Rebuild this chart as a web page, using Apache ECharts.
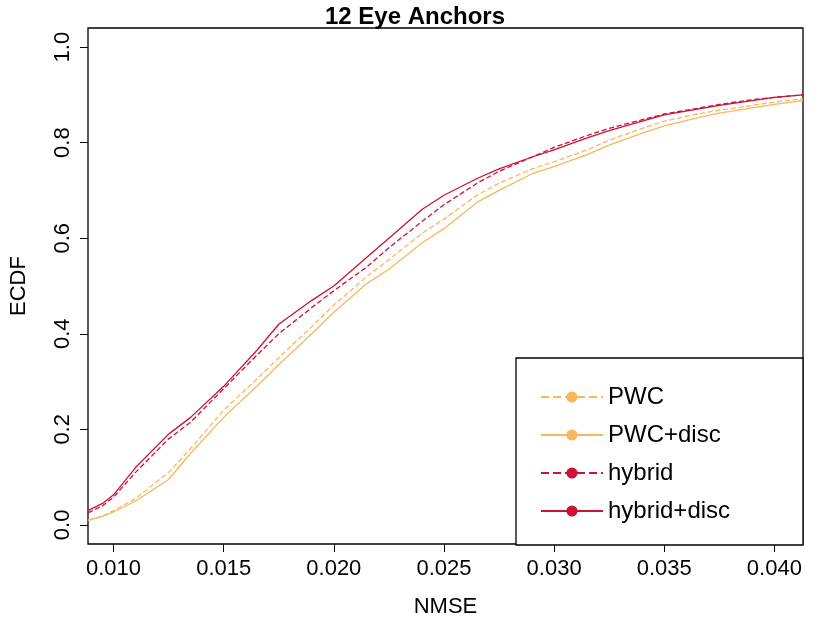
<!DOCTYPE html>
<html><head><meta charset="utf-8">
<script src="https://cdn.jsdelivr.net/npm/echarts@6/dist/echarts.min.js"></script>
<style>html,body{margin:0;padding:0;background:#fff}#c{width:830px;height:623px}</style>
</head><body><div id="c"></div>
<script>
const xs = [0.00884,0.0095,0.010,0.011,0.0125,0.0135,0.015,0.0165,0.0175,0.019,0.020,0.0215,0.0225,0.024,0.025,0.0265,0.0275,0.029,0.030,0.0315,0.0325,0.034,0.035,0.0365,0.0375,0.039,0.040,0.0413];
const pwc       = [0.010,0.018,0.030,0.055,0.110,0.160,0.240,0.305,0.350,0.415,0.460,0.520,0.555,0.610,0.640,0.690,0.715,0.745,0.760,0.785,0.805,0.830,0.845,0.860,0.868,0.878,0.885,0.892];
const pwcDisc   = [0.010,0.018,0.027,0.050,0.095,0.150,0.225,0.290,0.335,0.400,0.445,0.505,0.535,0.590,0.620,0.675,0.700,0.735,0.750,0.775,0.795,0.820,0.835,0.852,0.862,0.873,0.880,0.888];
const hybrid    = [0.025,0.040,0.058,0.110,0.180,0.215,0.285,0.355,0.400,0.455,0.490,0.540,0.580,0.635,0.670,0.715,0.740,0.770,0.790,0.815,0.830,0.848,0.860,0.872,0.880,0.890,0.895,0.900];
const hybridDisc= [0.030,0.045,0.063,0.120,0.190,0.225,0.290,0.365,0.420,0.470,0.500,0.560,0.600,0.660,0.690,0.725,0.745,0.770,0.785,0.810,0.825,0.845,0.858,0.870,0.878,0.888,0.895,0.900];
const names = ['PWC','PWC+disc','hybrid','hybrid+disc'];
const xTicks = [0.010,0.015,0.020,0.025,0.030,0.035,0.040];
const yTicks = [0,0.2,0.4,0.6,0.8,1.0];
const orange = '#F8B65E', red = '#CC1236';
const mk = (n, d, c, t) => ({name:n, type:'line', data:xs.map((x,i)=>[x,d[i]]), symbol:'none', z:2,
  lineStyle:{color:c, width:1.3, type:t}, itemStyle:{color:c}});
const chart = echarts.init(document.getElementById('c'));
chart.setOption({
  animation:false,
  title:{text:'12 Eye Anchors', left:'center', top:0, textStyle:{fontFamily:'Liberation Sans', fontWeight:'bold', fontSize:24, color:'#000'}},
  grid:{left:77, right:27, top:28, bottom:78, show:true, borderColor:'#000', borderWidth:1.3},
  xAxis:{type:'value', min:0.00884, max:0.0413,
    name:'NMSE', nameLocation:'middle', nameGap:52, nameTextStyle:{fontFamily:'Liberation Sans', fontSize:22, color:'#000'},
    axisLine:{show:false, onZero:false}, splitLine:{show:false},
    axisTick:{show:true, length:8, lineStyle:{color:'#000'}, customValues:xTicks},
    axisLabel:{fontFamily:'Liberation Sans', fontSize:22, color:'#000', margin:14, customValues:xTicks, formatter:v=>v.toFixed(3)}},
  yAxis:{type:'value', min:-0.04, max:1.04,
    name:'ECDF', nameLocation:'middle', nameGap:58, nameTextStyle:{fontFamily:'Liberation Sans', fontSize:22, color:'#000'},
    axisLine:{show:false, onZero:false}, splitLine:{show:false},
    axisTick:{show:true, length:8, lineStyle:{color:'#000'}, customValues:yTicks},
    axisLabel:{rotate:90, fontFamily:'Liberation Sans', fontSize:22, color:'#000', margin:14, customValues:yTicks, formatter:v=>v.toFixed(1)}},
  legend:{data:names, orient:'vertical', left:535, top:380, itemWidth:62, itemHeight:14, itemGap:14, z:30,
    textStyle:{fontFamily:'Liberation Sans', fontSize:24, color:'#000'}},
  graphic:[{type:'rect', z:20, shape:{x:516, y:358, width:287, height:187}, style:{fill:'#fff', stroke:'#000', lineWidth:1.3}}],
  series:[mk('PWC',pwc,orange,'dashed'), mk('PWC+disc',pwcDisc,orange,'solid'), mk('hybrid',hybrid,red,'dashed'), mk('hybrid+disc',hybridDisc,red,'solid')]
});
</script></body></html>
